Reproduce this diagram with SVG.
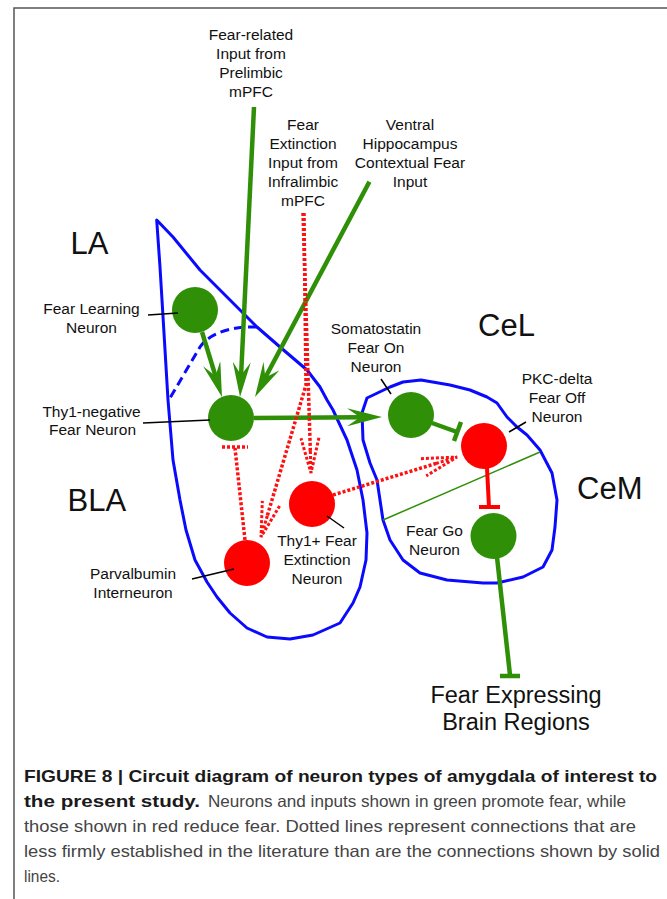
<svg xmlns="http://www.w3.org/2000/svg" width="667" height="899" viewBox="0 0 667 899">
<style>
text{font-family:"Liberation Sans",Arial,sans-serif;fill:#111}
.lbl{font-size:15.5px;text-anchor:middle}
.reg{font-size:31px}
.big{font-size:23.5px;text-anchor:middle}
.cap{font-size:16.5px;fill:#444}
.capb{font-size:16.5px;font-weight:bold;fill:#1a1a1a}
.blue{fill:none;stroke:#0a0aff;stroke-width:3;stroke-linejoin:round}
.g{fill:#2f8f07}
.r{fill:#ff0000}
.gl{stroke:#2f8f07;stroke-width:4.5;fill:none}
.rd{stroke:#ff1010;stroke-width:3.5;stroke-dasharray:3 2;fill:none}
.lead{stroke:#000;stroke-width:1.5}
</style>
<defs>
<marker id="ga" markerUnits="userSpaceOnUse" viewBox="0 0 35 18" markerWidth="35" markerHeight="18" refX="15" refY="9" orient="auto">
<path d="M0,0 L35,9 L0,18 L13,9 Z" fill="#2f8f07"/>
</marker>
<marker id="ra" markerUnits="userSpaceOnUse" viewBox="-2 -2 39 22" markerWidth="39" markerHeight="22" refX="15" refY="9" orient="auto">
<path d="M0,0 L35,9 L0,18 M13,9 L35,9" fill="none" stroke="#ff1010" stroke-width="3" stroke-dasharray="3 2"/>
</marker>
</defs>
<!-- frame -->
<path d="M14,899 L14,8 L667,8" fill="none" stroke="#555" stroke-width="1.5"/>

<!-- regions -->
<g id="region-LA-BLA">
<polygon class="blue" points="156.7,220 173,237 200,270 220,290 247,317 257,327 280,347 307,370 320,387 327,400 333,410 347,440 357,470 363,500 367,533 366,560 360,587 353,603 340,623 313,635 290,639 267,637 247,628 230,613 217,597 207,582 195,560 186,530 180,500 173,460 168,400 164,333 160,267"/>
<path class="blue" d="M257,327 C235,326 210,332 200,347 L170,398" stroke-dasharray="9 5"/>
<text class="reg" x="70.5" y="254">LA</text>
<text class="reg" x="67.5" y="511">BLA</text>
</g>
<g id="region-CeL-CeM">
<polygon class="blue" points="403,382 421,380 450,385 470,390 487,397 497,403 507,417 517,427 527,435 540,450 552,473 557,500 555,527 552,550 543,567 523,577 497,583 483,583 447,580 420,573 403,560 390,540 383,520 380,500 377,480 370,463 363,440 362,413 367,398 390,387"/>
<line x1="383" y1="520" x2="540" y2="452" stroke="#2f8f07" stroke-width="1.5"/>
<text class="reg" x="478" y="336">CeL</text>
<text class="reg" x="577" y="499">CeM</text>
</g>

<!-- inputs -->
<g id="input-prelimbic">
<text class="lbl" x="251" y="40">Fear-related</text>
<text class="lbl" x="251" y="59">Input from</text>
<text class="lbl" x="251" y="78">Prelimbic</text>
<text class="lbl" x="251" y="97">mPFC</text>
</g>
<g id="input-infralimbic">
<text class="lbl" x="303" y="130">Fear</text>
<text class="lbl" x="303" y="149">Extinction</text>
<text class="lbl" x="303" y="168">Input from</text>
<text class="lbl" x="303" y="187">Infralimbic</text>
<text class="lbl" x="303" y="206">mPFC</text>
</g>
<g id="input-hippocampus">
<text class="lbl" x="410" y="130">Ventral</text>
<text class="lbl" x="410" y="149">Hippocampus</text>
<text class="lbl" x="410" y="168">Contextual Fear</text>
<text class="lbl" x="410" y="187">Input</text>
</g>

<!-- connectors -->
<g id="connectors">
<line class="gl" x1="202" y1="332" x2="216.1" y2="377.9" marker-end="url(#ga)"/>
<line class="gl" x1="254" y1="107" x2="241" y2="377" marker-end="url(#ga)"/>
<line class="gl" x1="369.4" y1="181.7" x2="264.4" y2="379.3" marker-end="url(#ga)"/>
<line class="gl" x1="254" y1="418" x2="362" y2="417.2" marker-end="url(#ga)"/>
<line class="gl" x1="432" y1="423" x2="457" y2="432"/>
<line class="gl" x1="461" y1="422" x2="454" y2="441"/>
<line x1="487" y1="468" x2="489" y2="507" stroke="#ff0000" stroke-width="4"/>
<line x1="479" y1="507" x2="500" y2="507" stroke="#ff0000" stroke-width="4"/>
<line class="gl" x1="497" y1="557" x2="510" y2="675"/>
<line class="gl" x1="500" y1="676" x2="520" y2="676"/>
<polyline class="rd" points="303,213 310.4,453" marker-end="url(#ra)"/>
<polyline class="rd" points="304,213 306,385 266.7,517.8" marker-end="url(#ra)"/>
<line class="rd" x1="333" y1="495" x2="437.9" y2="462.9" marker-end="url(#ra)"/>
<line class="rd" x1="245" y1="540" x2="235" y2="448"/>
<line class="rd" x1="222" y1="447" x2="248" y2="447"/>
</g>

<!-- neurons -->
<g id="fear-learning-neuron">
<circle class="g" cx="195" cy="310" r="23"/>
<line class="lead" x1="148" y1="315" x2="178" y2="313"/>
<text class="lbl" x="91.5" y="314">Fear Learning</text>
<text class="lbl" x="91.5" y="332.5">Neuron</text>
</g>
<g id="thy1-negative-neuron">
<circle class="g" cx="231" cy="418" r="23"/>
<line class="lead" x1="143" y1="423" x2="210" y2="420"/>
<text class="lbl" x="91.5" y="416.5">Thy1-negative</text>
<text class="lbl" x="92.5" y="435">Fear Neuron</text>
</g>
<g id="parvalbumin-neuron">
<circle class="r" cx="247" cy="563" r="23"/>
<line class="lead" x1="192" y1="579" x2="234" y2="569"/>
<text class="lbl" x="133" y="578.5">Parvalbumin</text>
<text class="lbl" x="133" y="597.5">Interneuron</text>
</g>
<g id="thy1-plus-neuron">
<circle class="r" cx="312" cy="504" r="23"/>
<line class="lead" x1="327" y1="516" x2="344" y2="528"/>
<text class="lbl" x="317" y="546">Thy1+ Fear</text>
<text class="lbl" x="317" y="565">Extinction</text>
<text class="lbl" x="317" y="584">Neuron</text>
</g>
<g id="somatostatin-neuron">
<circle class="g" cx="411" cy="415" r="23"/>
<line class="lead" x1="381" y1="379" x2="391" y2="394"/>
<text class="lbl" x="376" y="333.5">Somatostatin</text>
<text class="lbl" x="376" y="352.5">Fear On</text>
<text class="lbl" x="376" y="371.5">Neuron</text>
</g>
<g id="pkc-delta-neuron">
<circle class="r" cx="484" cy="446" r="23"/>
<line class="lead" x1="509" y1="432" x2="526" y2="422"/>
<text class="lbl" x="557" y="383.5">PKC-delta</text>
<text class="lbl" x="557" y="402.5">Fear Off</text>
<text class="lbl" x="557" y="421.5">Neuron</text>
</g>
<g id="fear-go-neuron">
<circle class="g" cx="493.5" cy="536" r="23"/>
<text class="lbl" x="434.5" y="536">Fear Go</text>
<text class="lbl" x="434.5" y="555">Neuron</text>
</g>
<g id="fear-expressing-regions">
<text class="big" x="516" y="703">Fear Expressing</text>
<text class="big" x="516" y="730">Brain Regions</text>
</g>

<!-- caption -->
<g id="caption">
<text class="capb" x="24" y="782" textLength="633" lengthAdjust="spacingAndGlyphs">FIGURE 8 | Circuit diagram of neuron types of amygdala of interest to</text>
<text class="capb" x="24" y="807" textLength="176" lengthAdjust="spacingAndGlyphs">the present study.</text>
<text class="cap" x="208" y="807" textLength="418" lengthAdjust="spacingAndGlyphs">Neurons and inputs shown in green promote fear, while</text>
<text class="cap" x="24" y="832" textLength="612" lengthAdjust="spacingAndGlyphs">those shown in red reduce fear. Dotted lines represent connections that are</text>
<text class="cap" x="24" y="857" textLength="636" lengthAdjust="spacingAndGlyphs">less firmly established in the literature than are the connections shown by solid</text>
<text class="cap" x="24" y="882" textLength="36" lengthAdjust="spacingAndGlyphs">lines.</text>
</g>
</svg>
